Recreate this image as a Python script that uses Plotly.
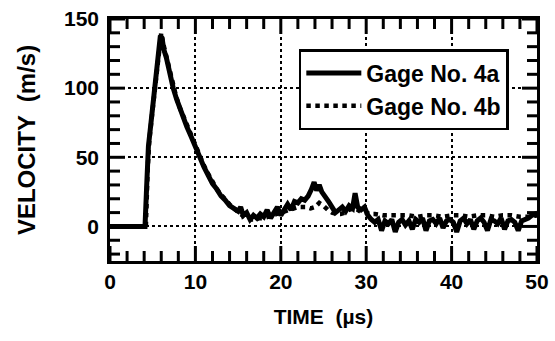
import plotly.graph_objects as go

# Gage No. 4a (solid)
t_a = [0, 4.1, 4.3, 4.5, 4.8, 5.2, 5.6, 5.9, 6.1, 6.3, 6.6, 7.0, 7.4, 7.8, 8.2, 8.6, 9.0, 9.5,
       10.0, 10.5, 11.0, 11.5, 12.0, 12.5, 13.0, 13.5, 14.0, 14.5, 15.0, 15.3, 15.6, 16.0, 16.4,
       16.8, 17.2, 17.6, 18.0, 18.4, 18.8, 19.2, 19.6, 20.0, 20.4, 20.8, 21.2, 21.6, 22.0, 22.4,
       22.8, 23.2, 23.6, 23.9, 24.2, 24.5, 24.8, 25.2, 25.6, 26.0, 26.4, 26.8, 27.2, 27.6, 28.0,
       28.4, 28.7, 29.0, 29.4, 29.8, 30.2, 30.6, 31.0, 31.4, 31.8, 32.2, 32.6, 33.0, 33.4, 33.8,
       34.2, 34.6, 35.0, 35.4, 35.8, 36.2, 36.6, 37.0, 37.4, 37.8, 38.2, 38.6, 39.0, 39.4, 39.8,
       40.2, 40.6, 41.0, 41.4, 41.8, 42.2, 42.6, 43.0, 43.4, 43.8, 44.2, 44.6, 45.0, 45.4, 45.8,
       46.2, 46.6, 47.0, 47.4, 47.8, 48.2, 48.6, 49.0, 49.4, 49.8, 50.0]
v_a = [0, 0, 30, 58, 75, 100, 122, 138, 136, 128, 122, 110, 100, 92, 85, 79, 72, 65,
       57, 50, 43, 37, 31, 27, 22, 19, 15, 13, 11, 14, 8, 10, 5,
       8, 6, 9, 7, 12, 6, 10, 14, 8, 13, 16, 12, 18, 17, 20,
       19, 22, 27, 32, 26, 30, 25, 22, 18, 14, 10, 12, 14, 11, 15,
       13, 24, 14, 12, 14, 8, 5, 3, 5, -3, 4, 2, 5, -4, 3,
       5, 1, 4, -2, 5, 3, 6, -3, 4, 5, 2, 6, -1, 4, 5,
       3, -4, 4, 6, 2, 5, -2, 4, 6, 3, -3, 5, 4, 2, 6,
       -2, 4, 5, 3, -3, 4, 5, 6, 8, 9, 7]

# Gage No. 4b (dotted)
t_b = [0, 4.2, 4.4, 4.6, 5.0, 5.4, 5.8, 6.0, 6.2, 6.5, 6.9, 7.3, 7.7, 8.1, 8.5, 9.0, 9.5,
       10.0, 10.5, 11.0, 11.5, 12.0, 12.5, 13.0, 13.5, 14.0, 14.5, 15.0, 15.5, 16.0, 16.5,
       17.0, 17.5, 18.0, 18.5, 19.0, 19.5, 20.0, 20.5, 21.0, 21.5, 22.0, 22.5, 23.0, 23.5,
       24.0, 24.5, 25.0, 25.5, 26.0, 26.5, 27.0, 27.5, 28.0, 28.5, 29.0, 29.5, 30.0, 30.5,
       31, 32, 33, 34, 35, 36, 37, 38, 39, 40, 41, 42, 43, 44, 45, 46, 47, 48, 49, 50]
v_b = [0, 0, 40, 62, 85, 110, 132, 140, 133, 125, 113, 103, 95, 87, 81, 73, 66,
       58, 51, 44, 38, 32, 27, 23, 19, 16, 13, 10, 8, 6, 5,
       5, 6, 6, 7, 8, 9, 10, 11, 12, 13, 14, 14, 14, 13,
       14, 17, 15, 12, 10, 9, 9, 10, 12, 13, 12, 10, 10, 9,
       9, 8, 8, 8, 8, 7, 8, 8, 7, 8, 8, 7, 8, 8, 7, 8, 8, 7, 7, 8]

x_ticks = [0, 10, 20, 30, 40, 50]
y_ticks = [0, 50, 100, 150]
x_range = [0, 50]
y_range = [-25, 150]
x_minor_step = 2
y_minor_step = 10

FONT = "Liberation Sans, Arial, sans-serif"
W, H = 555, 341
M = dict(l=110, r=18, t=19, b=80)

fig = go.Figure()
fig.add_trace(go.Scatter(x=t_a, y=v_a, mode="lines", name="Gage No. 4a",
                         line=dict(color="black", width=5)))
fig.add_trace(go.Scatter(x=t_b, y=v_b, mode="lines", name="Gage No. 4b",
                         line=dict(color="black", width=4.5, dash="dot")))

# inward tick marks on all four sides, drawn as one line trace
px_x = (W - M["l"] - M["r"]) / (x_range[1] - x_range[0])   # pixels per x unit
px_y = (H - M["t"] - M["b"]) / (y_range[1] - y_range[0])   # pixels per y unit
MAJOR_LEN, MINOR_LEN = 15, 10
tx, ty = [], []
xv = x_range[0]
while xv <= x_range[1] + 1e-9:
    L = MAJOR_LEN if any(abs(xv - t) < 1e-9 for t in x_ticks) else MINOR_LEN
    tx += [xv, xv, None, xv, xv, None]
    ty += [y_range[0], y_range[0] + L / px_y, None, y_range[1], y_range[1] - L / px_y, None]
    xv += x_minor_step
yv = -20
while yv <= y_range[1] + 1e-9:
    L = MAJOR_LEN if any(abs(yv - t) < 1e-9 for t in y_ticks) else MINOR_LEN
    tx += [x_range[0], x_range[0] + L / px_x, None, x_range[1], x_range[1] - L / px_x, None]
    ty += [yv, yv, None, yv, yv, None]
    yv += y_minor_step
fig.add_trace(go.Scatter(x=tx, y=ty, mode="lines", showlegend=False, hoverinfo="skip",
                         connectgaps=False,
                         line=dict(color="black", width=3), cliponaxis=False))

tfont = dict(family=FONT, size=21, color="black", weight="bold")

fig.update_layout(
    template="none",
    width=W, height=H,
    margin=M,
    paper_bgcolor="white", plot_bgcolor="white",
    xaxis=dict(
        range=x_range, tickvals=x_ticks, ticks="",
        showline=True, linecolor="black", linewidth=2.5, mirror=True,
        showgrid=True, gridcolor="black", gridwidth=1.5, griddash="dot", zeroline=False,
        tickfont=tfont,
        title=dict(text="TIME  (µs)", standoff=18,
                   font=dict(family=FONT, size=21, color="black", weight="bold")),
    ),
    yaxis=dict(
        range=y_range, tickvals=y_ticks, ticks="",
        showline=True, linecolor="black", linewidth=2.5, mirror=True,
        showgrid=True, gridcolor="black", gridwidth=1.5, griddash="dot", zeroline=False,
        tickfont=tfont, ticklabelstandoff=4,
        title=dict(text="VELOCITY  (m/s)", standoff=22,
                   font=dict(family=FONT, size=24, color="black", weight="bold")),
    ),
    showlegend=True,
    legend=dict(x=0.934, y=0.876, xanchor="right", yanchor="top",
                bgcolor="white", bordercolor="black", borderwidth=2.5,
                font=dict(family=FONT, size=23, color="black", weight="bold"),
                itemwidth=55, tracegroupgap=0),
)

fig.write_html("out.html")
